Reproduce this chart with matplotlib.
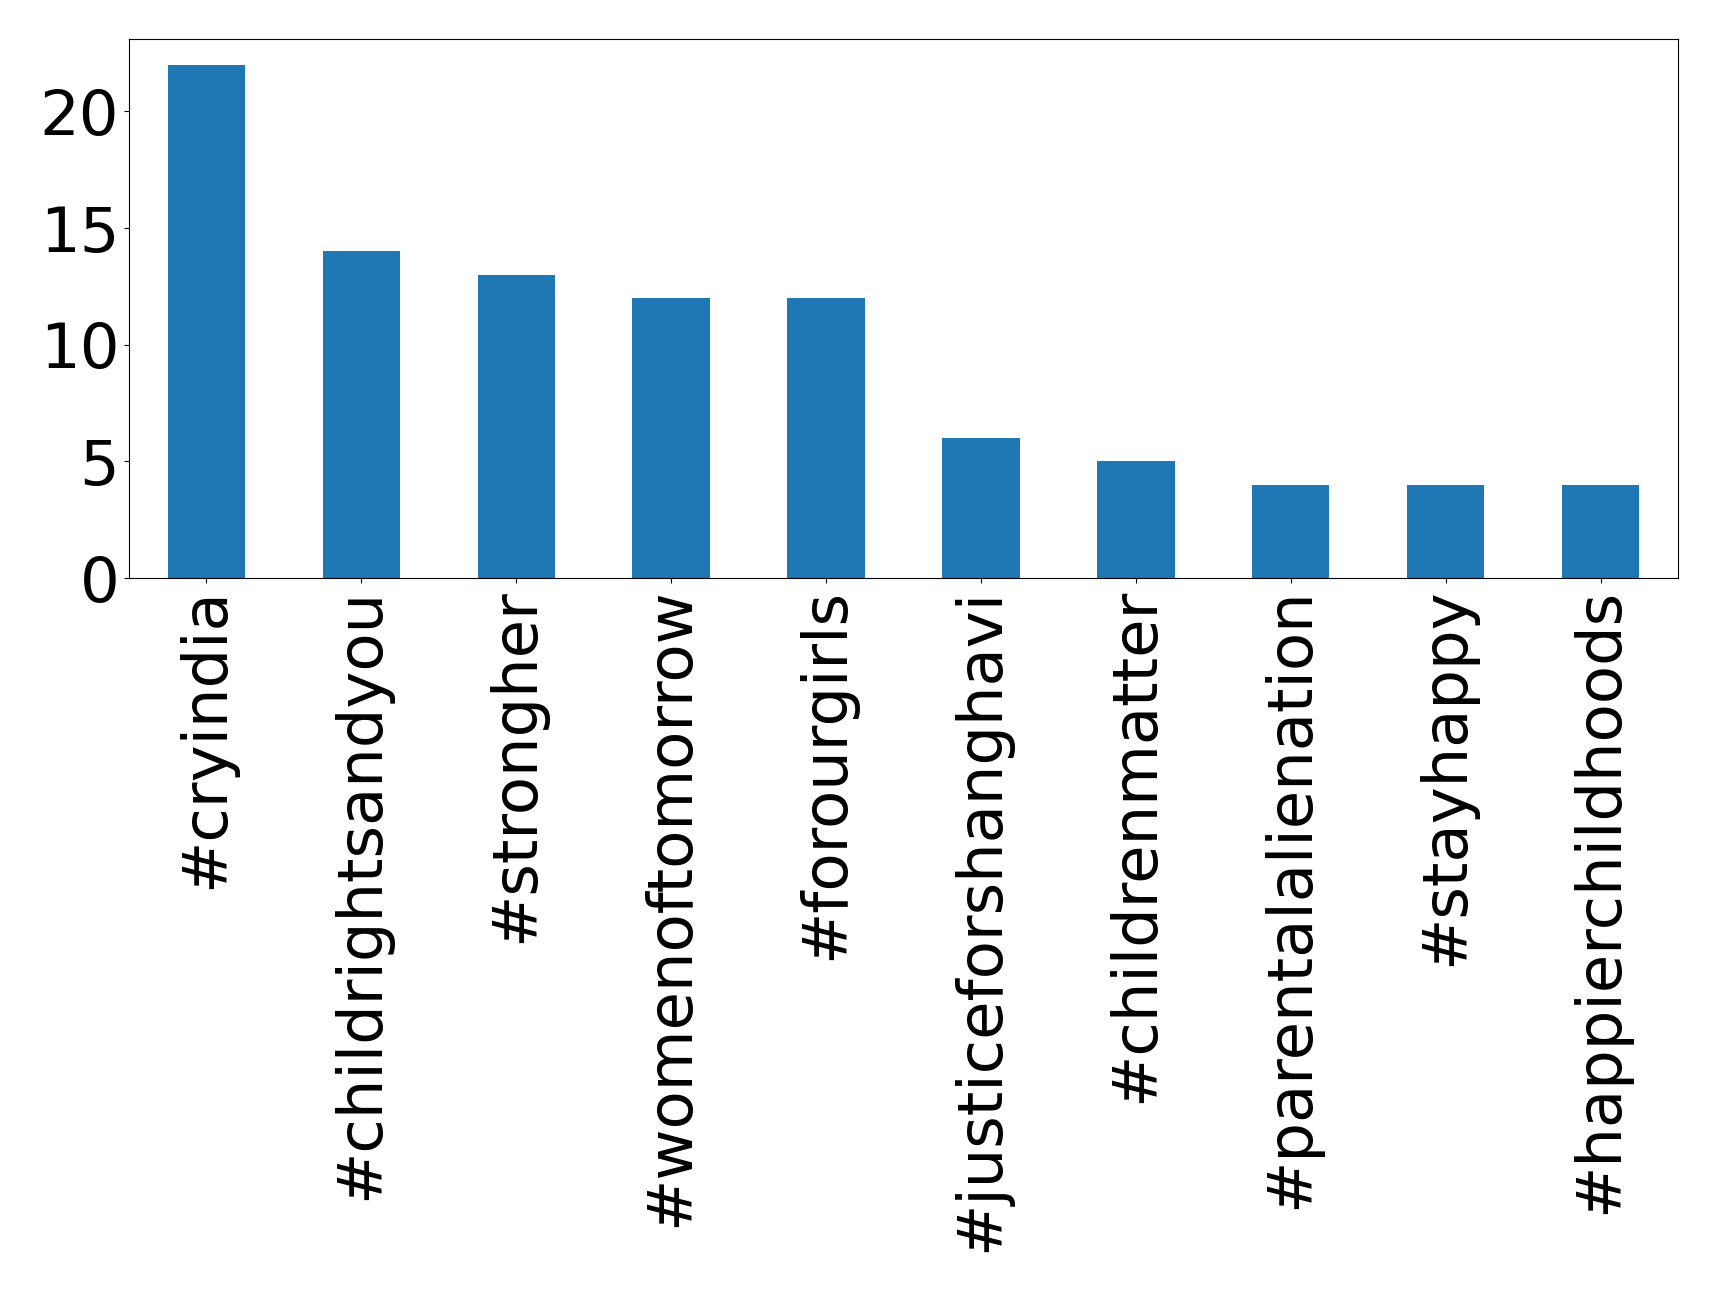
import matplotlib
matplotlib.use("Agg")
import matplotlib.pyplot as plt
import numpy as np

categories = ["#cryindia", "#childrightsandyou", "#strongher", "#womenoftomorrow",
              "#forourgirls", "#justiceforshanghavi", "#childrenmatter",
              "#parentalalienation", "#stayhappy", "#happierchildhoods"]
counts = [22, 14, 13, 12, 12, 6, 5, 4, 4, 4]

fig = plt.figure(figsize=(17.19, 12.92), dpi=100)
ax = fig.add_axes([129/1719, 1 - 578/1292, (1678-129)/1719, (578-39)/1292])
x = np.arange(len(categories))
ax.bar(x, counts, width=0.5, color="#1f77b4")
ax.set_xlim(-0.5, len(categories) - 0.5)
ax.set_ylim(0, 23.1)
ax.set_xticks(x)
ax.set_xticklabels(categories, rotation=90)
ax.set_yticks([0, 5, 10, 15, 20])
ax.tick_params(axis="both", labelsize=45)
fig.savefig("out.png", dpi=100)
